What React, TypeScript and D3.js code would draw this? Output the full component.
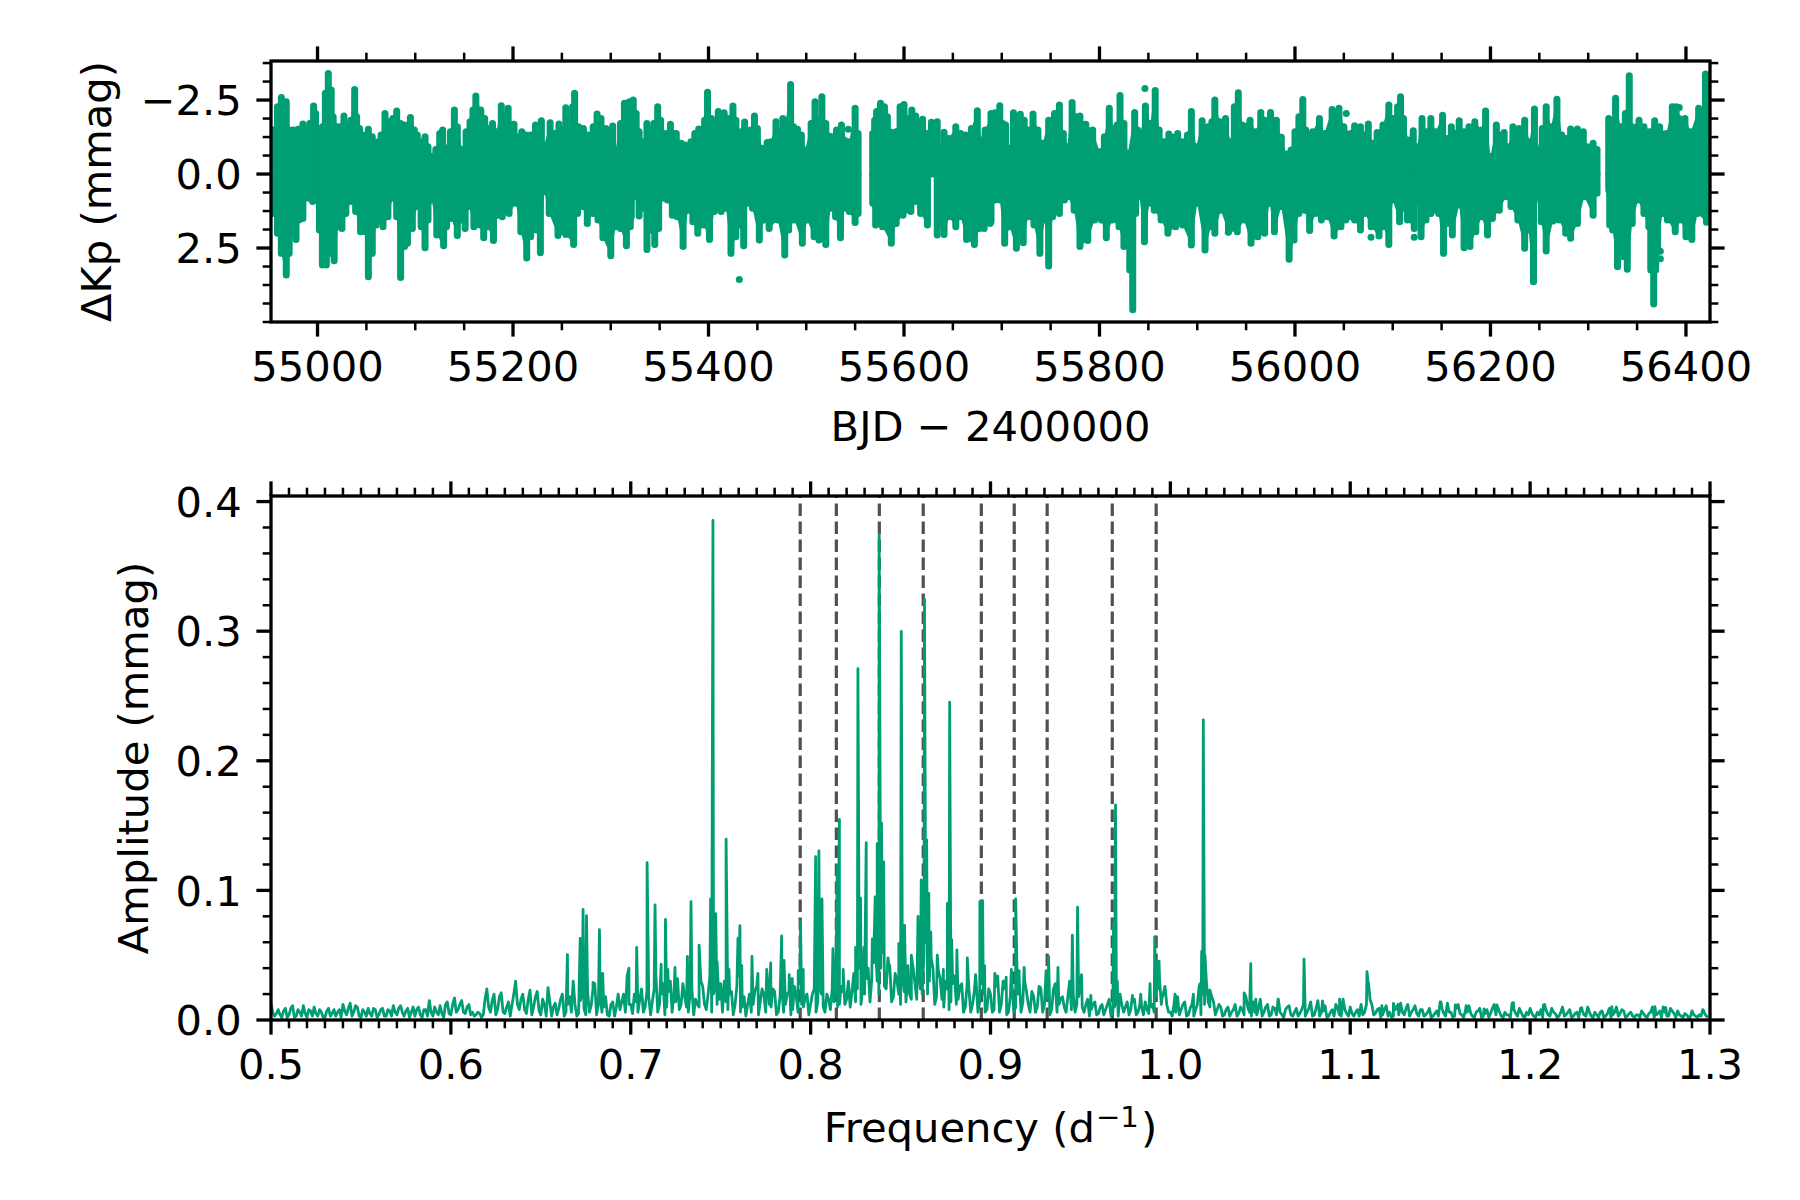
import React, { useEffect, useRef } from 'react';
import * as d3 from 'd3';

// Light curve: [BJD - 2400000, delta Kp in mmag]
const lcUpper: [number, number][] = [
  [54952,-1.51],[54956,-1.49],[54959,-2.27],[54963,-2.59],[54968,-2.44],[54971,-1.49],[54975,-1.49],[54980,-1.51],[54985,-1.69],[54988,-1.49],
  [54992,-1.71],[54996,-2.30],[54998,-2.05],[55002,-1.43],[55005,-1.60],[55008,-2.73],[55011,-3.40],[55014,-2.84],[55016,-1.94],[55019,-1.60],
  [55022,-1.60],[55027,-1.96],[55030,-1.60],[55034,-1.82],[55038,-2.86],[55040,-1.94],[55043,-1.54],[55046,-1.32],[55052,-1.51],[55056,-1.26],
  [55062,-1.09],[55065,-1.32],[55069,-2.05],[55073,-1.77],[55077,-1.88],[55081,-2.13],[55085,-1.71],[55089,-1.66],[55095,-1.91],[55099,-1.49],
  [55102,-1.32],[55106,-1.09],[55110,-1.26],[55113,-0.92],[55117,-0.59],[55121,-0.83],[55125,-1.37],[55128,-1.49],[55131,-0.87],[55136,-1.43],
  [55140,-2.16],[55143,-1.60],[55148,-0.83],[55152,-1.43],[55156,-1.77],[55159,-2.16],[55162,-2.64],[55167,-2.16],[55171,-1.88],[55174,-1.54],
  [55179,-1.71],[55183,-1.43],[55188,-2.31],[55191,-1.94],[55195,-2.22],[55198,-1.66],[55201,-1.68],[55205,-1.26],[55209,-1.43],[55213,-1.32],
  [55218,-1.32],[55223,-1.66],[55229,-1.80],[55232,-0.98],[55238,-1.73],[55242,-1.37],[55247,-1.69],[55251,-1.51],[55254,-2.24],[55258,-1.49],
  [55261,-2.27],[55263,-2.73],[55267,-1.60],[55272,-1.54],[55276,-1.32],[55282,-1.60],[55286,-2.03],[55290,-1.88],[55295,-1.54],[55302,-1.62],
  [55307,-0.81],[55310,-1.71],[55314,-2.39],[55319,-2.44],
  [55323,-2.50],[55326,-2.05],[55329,-1.43],[55333,-1.09],[55337,-1.71],[55340,-1.54],[55344,-1.71],[55348,-2.27],[55351,-1.82],[55355,-1.37],
  [55361,-1.68],[55364,-1.37],[55367,-1.37],[55372,-1.04],[55376,-0.98],[55382,-1.09],[55386,-1.37],[55390,-1.52],[55394,-1.49],[55396,-1.82],
  [55399,-2.76],[55403,-1.88],[55405,-1.60],[55410,-2.11],[55416,-2.07],[55420,-1.88],[55425,-2.30],[55428,-1.82],[55431,-1.43],[55437,-1.76],
  [55441,-1.43],[55443,-1.49],[55447,-1.96],[55450,-1.54],[55455,-0.87],[55460,-1.07],[55464,-1.09],[55469,-1.77],[55472,-1.43],[55476,-1.88],
  [55479,-1.77],[55484,-3.03],[55487,-1.60],[55491,-1.51],[55495,-1.32],[55499,-0.81],[55505,-1.71],[55509,-2.44],[55512,-1.77],[55516,-2.61],
  [55520,-1.71],[55524,-1.28],[55529,-1.28],[55531,-1.49],[55536,-1.66],[55539,-1.15],[55544,-1.09],[55550,-2.22],[55553,-1.37],
  [55568,-1.37],[55570,-1.82],[55572,-2.11],[55576,-2.39],[55580,-2.27],[55583,-1.94],[55587,-1.41],[55592,-1.43],[55596,-2.27],[55600,-2.35],
  [55604,-1.88],[55608,-2.16],[55612,-1.96],[55616,-1.60],[55619,-1.85],[55624,-1.37],[55628,-1.75],[55631,-1.43],[55634,-1.77],[55637,-0.92],
  [55641,-1.41],[55646,-1.20],[55653,-1.60],[55658,-1.37],[55663,-1.32],[55669,-1.54],[55675,-2.14],[55679,-1.15],[55683,-1.49],[55688,-1.60],
  [55689,-2.05],[55693,-2.07],[55698,-2.31],[55701,-1.71],[55704,-1.66],[55708,-0.87],[55712,-2.07],[55716,-1.43],[55719,-1.94],[55723,-1.82],
  [55728,-1.49],[55732,-2.03],[55737,-1.49],[55742,-1.04],[55748,-1.82],[55754,-2.05],[55759,-2.33],[55763,-1.37],[55767,-0.92],[55772,-2.42],
  [55776,-1.94],[55780,-1.96],[55786,-1.68],[55793,-1.49],[55800,-0.75],[55805,-1.26],[55810,-2.22],[55814,-1.54],[55818,-1.66],[55821,-2.65],
  [55825,-1.71],[55829,-0.70],[55836,-2.08],[55839,-1.49],[55842,-1.37],[55847,-2.30],[55852,-1.71],[55857,-2.82],[55861,-1.49],[55866,-1.09],
  [55871,-1.35],[55880,-1.37],[55885,-1.09],[55890,-1.32],[55894,-2.11],[55899,-0.92],[55905,-1.80],[55911,-1.60],[55915,-1.77],[55918,-2.50],
  [55923,-1.77],[55929,-1.88],[55934,-1.09],[55938,-2.27],[55942,-2.75],[55946,-1.66],[55954,-1.82],[55960,-1.43],[55965,-2.08],[55969,-1.82],
  [55975,-2.08],[55981,-1.82],[55986,-1.24],[55991,-0.68],[55996,-0.81],[56000,-1.43],[56004,-1.94],[56008,-2.52],[56011,-1.49],[56018,-1.43],
  [56025,-1.88],[56030,-1.37],[56038,-2.18],[56045,-2.22],[56050,-1.60],[56057,-1.37],
  [56061,-1.63],[56067,-1.60],[56071,-1.32],[56075,-1.69],[56079,-1.04],[56084,-1.40],[56090,-1.66],[56096,-2.33],[56100,-1.88],[56105,-2.27],
  [56108,-2.61],[56111,-1.88],[56116,-1.15],[56121,-1.46],[56125,-0.92],[56130,-1.88],[56134,-1.43],[56139,-1.88],[56144,-1.43],[56151,-1.99],
  [56155,-1.20],[56160,-1.60],[56164,-1.37],[56168,-1.80],[56173,-1.43],[56178,-1.60],[56184,-1.77],[56191,-1.49],[56195,-2.13],[56200,-0.59],
  [56206,-1.66],[56210,-1.32],[56214,-1.40],[56218,-0.92],[56223,-1.60],[56229,-1.54],[56235,-1.82],[56240,-1.09],[56245,-2.20],[56248,-0.81],
  [56253,-1.54],[56257,-2.27],[56262,-1.60],[56268,-2.53],[56273,-1.32],[56277,-1.20],[56282,-1.52],[56289,-1.52],[56295,-1.43],[56299,-0.92],
  [56305,-1.04],[56309,-0.83],
  [56321,-1.88],[56324,-1.43],[56328,-2.56],[56333,-1.60],[56338,-2.05],[56342,-3.32],[56345,-1.60],[56352,-1.82],[56357,-1.60],[56362,-1.43],
  [56368,-1.80],[56373,-1.60],[56380,-1.37],[56386,-2.27],[56390,-2.27],[56393,-1.88],[56399,-1.88],[56405,-1.43],[56413,-2.22],[56416,-1.26],
  [56420,-3.38],[56423,-3.34],
];

const lcLower: [number, number][] = [
  [54952,1.33],[54956,1.33],[54959,2.00],[54963,2.68],[54968,3.41],[54971,2.68],[54975,2.00],[54978,2.21],[54981,1.55],[54985,1.50],
  [54988,0.82],[54992,0.82],[54995,0.93],[54998,0.88],[55002,1.89],[55005,3.07],[55009,3.07],[55012,2.68],[55017,2.93],[55021,1.78],
  [55025,1.84],[55029,1.33],[55034,0.93],[55039,1.27],[55044,1.95],[55049,1.95],[55052,3.47],[55056,2.68],[55060,1.72],[55063,1.55],
  [55067,1.78],[55072,1.44],[55077,0.82],[55081,1.44],[55085,3.50],[55089,2.45],[55092,2.34],[55097,1.84],[55102,1.10],[55106,1.78],
  [55110,2.49],[55113,1.55],[55117,0.88],[55122,2.06],[55129,2.42],[55132,1.78],[55137,1.50],[55143,2.08],[55147,1.55],[55151,1.84],
  [55155,1.10],[55160,1.78],[55166,1.72],[55170,2.15],[55174,1.78],[55180,2.25],[55184,1.39],[55189,1.44],[55196,1.33],[55203,0.99],
  [55208,1.95],[55214,2.84],[55218,2.12],[55224,1.89],[55228,2.66],[55232,0.60],[55237,1.33],[55246,2.08],[55254,2.04],[55262,2.38],
  [55266,1.33],[55271,1.10],[55276,1.67],[55282,1.33],[55287,1.55],[55292,2.15],[55300,2.76],[55305,1.78],[55310,1.84],[55316,2.42],[55320,1.78],
  [55321,1.44],[55325,0.77],[55329,1.42],[55334,1.16],[55337,2.55],[55341,1.89],[55345,2.38],[55349,1.84],[55353,0.82],[55358,0.88],
  [55363,1.39],[55368,1.44],[55374,2.45],[55379,1.22],[55384,1.61],[55389,2.00],[55395,1.72],[55401,2.21],[55406,1.27],[55413,1.27],
  [55418,1.16],[55423,2.68],[55428,2.12],[55432,1.72],[55436,2.42],[55440,0.99],[55445,1.16],[55452,2.23],[55457,1.55],[55462,1.84],
  [55471,1.55],[55478,2.74],[55482,1.89],[55488,1.55],[55496,2.34],[55501,1.55],[55508,2.12],[55513,2.23],[55520,2.38],[55525,1.16],
  [55530,1.44],[55535,2.15],[55539,1.16],[55544,1.27],[55550,1.64],[55553,1.33],
  [55568,0.99],[55571,1.72],[55578,1.78],[55587,2.34],[55592,1.67],[55599,1.39],[55607,1.27],[55612,0.93],[55617,1.33],[55624,1.72],
  [55634,2.06],[55637,1.67],[55641,2.04],[55646,1.44],[55653,1.78],[55658,1.44],[55664,2.21],[55672,2.38],[55677,1.84],[55682,1.84],[55688,1.67],
  [55689,1.61],[55693,0.88],[55698,0.88],[55703,2.34],[55708,1.78],[55715,2.51],[55718,1.78],[55722,2.32],[55727,1.44],[55733,1.72],
  [55739,2.68],[55744,1.55],[55748,3.11],[55752,1.44],[55759,1.33],[55764,0.88],[55768,0.77],[55774,1.22],[55780,2.45],[55788,2.25],
  [55795,1.55],[55802,1.55],[55807,2.15],[55813,1.55],[55820,1.78],[55825,2.45],[55829,2.00],[55831,3.24],[55834,4.59],[55837,1.33],[55841,0.77],
  [55846,2.29],[55851,0.99],[55856,1.22],[55863,1.55],[55870,2.00],[55878,1.78],[55885,1.72],[55894,2.40],[55900,0.99],[55908,2.57],
  [55914,1.78],[55918,2.00],[55924,1.22],[55932,1.95],[55941,1.95],[55948,1.55],[55955,2.34],[55962,2.12],[55969,2.00],[55974,0.99],
  [55979,1.95],[55986,1.10],[55994,2.88],[55999,2.23],[56004,1.33],[56010,1.22],[56015,1.91],[56021,1.33],[56027,1.55],[56033,1.44],
  [56040,2.09],[56047,1.78],[56052,1.55],[56057,1.44],
  [56061,1.55],[56067,1.89],[56072,1.33],[56078,1.78],[56086,2.09],[56091,1.78],[56096,2.38],[56100,0.88],[56107,1.61],[56112,1.16],
  [56115,1.55],[56122,1.84],[56125,0.88],[56129,2.12],[56134,1.55],[56139,1.33],[56147,1.33],[56152,2.68],[56156,1.67],[56161,2.06],
  [56168,1.05],[56173,2.49],[56179,2.45],[56185,1.95],[56191,1.44],[56197,2.06],[56202,1.50],[56209,1.22],[56216,0.77],[56221,1.10],
  [56228,1.55],[56235,2.51],[56239,1.89],[56244,3.64],[56247,0.77],[56252,1.61],[56257,2.60],[56264,1.59],[56270,1.55],[56277,2.00],
  [56282,2.17],[56289,1.67],[56296,0.77],[56305,1.39],[56309,0.65],
  [56321,0.54],[56322,1.72],[56325,1.89],[56330,3.13],[56335,2.79],[56340,3.22],[56345,1.67],[56351,0.88],[56357,1.33],[56362,1.78],
  [56364,3.24],[56367,4.39],[56369,3.24],[56371,2.45],[56376,1.33],[56381,1.55],[56389,1.95],[56395,1.55],[56400,2.12],[56406,2.21],
  [56412,1.33],[56421,1.63],[56423,1.55],
];

const lcOutliers: [number, number][] = [
  [55431.5,3.56],[55543,-1.51],[55719,-2.02],[55846.5,-2.89],[55931.8,1.97],[56052.5,-2.05],
  [56077.8,2.14],[56122,2.14],[56373.8,2.61],[56373.8,2.86],[56393.2,-2.25],
];

// Holes in the light curve are wider than this many days
const lcMaxStep = 10;

// Amplitude spectrum: background level every 0.002 from 0.5 upward...
const specStart = 0.5;
const specStep = 0.002;
const specAmps = [
  .013,.003,.008,.002,.009,.004,.011,.003,.006,.011,.002,.007,.010,.003,.006,.002,.009,.005,.003,.008,
  .012,.004,.013,.006,.010,.002,.006,.009,.003,.008,.004,.009,.003,.007,.011,.004,.011,.003,.009,.006,
  .003,.010,.002,.008,.015,.003,.006,.011,.002,.014,
  .004,.017,.008,.015,.005,.012,.006,.004,.005,.004,.024,.006,.020,.008,.021,.005,.014,.012,.030,.008,
  .020,.005,.023,.010,.022,.004,.012,.025,.003,.013,.009,.020,.006,.018,.030,.003,.015,.009,.022,.011,
  .028,.012,.006,.018,.003,.014,.010,.008,.020,.034,
  .012,.020,.006,.024,.010,.018,.014,.034,.012,.028,.010,.030,.020,.032,.012,.018,.006,.024,.016,.010,
  .026,.008,.034,.020,.012,.028,.030,.008,.022,.012,.034,.010,.003,.020,.012,.026,.014,.020,.030,.010,
  .022,.006,.024,.012,.022,.008,.018,.028,.010,.020,
  .012,.024,.014,.020,.006,.016,.024,.030,.012,.022,.016,.010,.036,.024,.012,.020,.040,.032,.060,.020,
  .052,.024,.042,.018,.030,.012,.022,.034,.016,.028,.040,.020,.060,.030,.040,.018,.032,.010,.024,.014,
  .034,.016,.028,.010,.024,.012,.030,.014,.020,.008,
  .020,.008,.034,.012,.024,.006,.026,.010,.030,.014,.022,.006,.018,.010,.024,.012,.020,.008,.028,.012,
  .018,.006,.030,.020,.012,.028,.006,.016,.008,.014,.005,.012,.008,.016,.006,.012,.020,.006,.014,.008,
  .016,.006,.010,.014,.005,.012,.018,.030,.020,.012,
  .006,.012,.018,.008,.014,.004,.012,.008,.026,.020,.030,.010,.014,.008,.010,.004,.010,.006,.012,.005,
  .008,.018,.006,.014,.004,.016,.006,.012,.004,.009,.016,.004,.008,.011,.003,.009,.005,.012,.006,.014,
  .004,.015,.006,.011,.003,.008,.012,.004,.016,.005,
  .010,.003,.008,.012,.006,.028,.012,.005,.009,.004,.011,.006,.003,.010,.013,.004,.012,.006,.011,.003,
  .008,.004,.009,.003,.007,.014,.005,.013,.006,.003,.012,.004,.007,.011,.003,.006,.009,.003,.008,.005,
  .012,.010,.003,.006,.004,.013,.005,.009,.003,.006,
  .009,.003,.006,.008,.012,.004,.009,.005,.003,.010,.004,.008,.003,.006,.009,.004,.010,.003,.006,.002,
  .007,.003,.009,.004,.010,.005,.007,.003,.006,.002,.004,.007,.003,.005,.010,.004,.007,.010,.003,.009,
  .005,.007,.003,.005,.002,.007,.003,.004,.008,.003,
];

// ...the same level half a step later (0.501, 0.503, ...)
const specAmpsMid = [
  .006,.005,.004,.007,.002,.009,.002,.008,.003,.005,.008,.003,.005,.008,.002,.007,.003,.008,.006,.002,
  .007,.009,.003,.011,.003,.008,.003,.005,.009,.002,.008,.003,.008,.003,.006,.009,.006,.007,.002,.010,
  .008,.004,.008,.003,.006,.010,.004,.005,.012,.005,
  .012,.006,.012,.006,.010,.004,.003,.006,.002,.016,.010,.015,.004,.018,.006,.010,.003,.020,.012,.016,
  .008,.016,.004,.018,.007,.016,.003,.014,.010,.004,.016,.003,.012,.006,.012,.005,.020,.004,.006,.024,
  .004,.018,.010,.004,.012,.003,.020,.014,.006,.012,
  .005,.014,.016,.006,.022,.004,.024,.006,.020,.004,.022,.006,.014,.008,.028,.010,.020,.004,.012,.030,
  .012,.020,.006,.028,.016,.006,.014,.020,.004,.026,.006,.018,.012,.006,.022,.004,.024,.006,.012,.024,
  .004,.018,.006,.020,.004,.026,.006,.012,.018,.004,
  .020,.006,.026,.010,.020,.008,.014,.010,.026,.012,.030,.022,.014,.040,.026,.032,.014,.044,.030,.040,
  .026,.048,.014,.036,.020,.034,.014,.020,.040,.016,.024,.050,.020,.048,.012,.038,.016,.030,.008,.028,
  .012,.026,.006,.028,.006,.022,.006,.028,.006,.024,
  .006,.026,.006,.030,.004,.018,.006,.020,.006,.030,.012,.022,.006,.026,.006,.016,.004,.024,.006,.016,
  .010,.018,.008,.006,.018,.010,.012,.003,.012,.004,.010,.004,.012,.003,.010,.003,.012,.010,.004,.014,
  .004,.012,.004,.008,.010,.006,.024,.012,.026,.006,
  .003,.006,.004,.012,.003,.009,.003,.012,.004,.012,.014,.018,.004,.012,.003,.008,.003,.008,.003,.010,
  .004,.010,.003,.006,.009,.003,.010,.003,.010,.004,.006,.002,.010,.004,.006,.003,.008,.003,.009,.003,
  .009,.003,.007,.002,.006,.003,.009,.003,.008,.003,
  .005,.006,.003,.004,.012,.016,.004,.008,.002,.008,.003,.002,.008,.004,.006,.009,.003,.008,.005,.008,
  .003,.006,.002,.005,.003,.009,.003,.006,.002,.009,.005,.002,.006,.005,.002,.007,.002,.005,.002,.009,
  .004,.006,.002,.004,.002,.008,.003,.006,.002,.004,
  .005,.002,.004,.002,.007,.003,.006,.002,.006,.003,.006,.002,.005,.002,.007,.003,.006,.002,.004,.006,
  .002,.005,.002,.006,.003,.008,.002,.005,.003,.004,.002,.005,.002,.006,.002,.005,.002,.006,.003,.007,
  .002,.004,.002,.004,.002,.004,.002,.003,.005,.002,
];

// ...and the peaks that stand out of it: [frequency, amplitude]
const specPeaks: [number, number][] = [
  [.6648,.0505],[.6719,.063],[.6735,.0854],[.6754,.0805],[.679,.029],[.6826,.0697],[.6844,.036],[.699,.04],[.7033,.056],[.7091,.1214],
  [.7135,.0888],[.7169,.043],[.7193,.0777],[.7206,.039],[.7246,.0405],[.7315,.049],[.7335,.0914],[.738,.0577],[.7444,.0934],[.7457,.3855],
  [.7472,.082],[.748,.045],[.753,.1396],[.7546,.039],[.7596,.063],[.7607,.0728],[.7617,.042],[.7674,.049],[.7707,.036],[.7756,.039],
  [.7778,.044],[.7839,.0648],[.7852,.046],[.7881,.035],[.7898,.032],[.7931,.038],[.7944,.0757],[.7959,.039],[.8028,.126],[.8046,.1305],
  [.8063,.0934],[.8124,.055],[.8148,.119],[.816,.1548],[.8181,.039],[.825,.056],[.8263,.271],[.8278,.094],[.8296,.056],[.8309,.1368],
  [.8343,.0625],[.8359,.095],[.837,.136],[.8381,.3746],[.8394,.152],[.8406,.122],[.8435,.043],[.849,.059],[.8504,.2998],[.8522,.073],
  [.8541,.042],[.856,.05],[.8597,.08],[.8615,.108],[.8633,.3247],[.8645,.139],[.8657,.0977],[.8668,.0677],[.8704,.05],[.8738,.039],
  [.876,.09],[.8773,.2453],[.8784,.062],[.8813,.054],[.8871,.048],[.8917,.035],[.8941,.0914],[.8956,.092],[.8967,.042],[.9024,.036],
  [.9087,.033],[.9116,.039],[.914,.0934],[.9159,.038],[.9187,.0405],[.9277,.025],[.9309,.038],[.9323,.049],[.9375,.0405],[.9455,.0654],
  [.9484,.087],[.9506,.035],[.9558,.019],[.9684,.075],[.9695,.166],[.9705,.03],[.9789,.019],[.9835,.02],[.9887,.028],[.9913,.0642],
  [.9924,.042],[.9937,.0454],[.9952,.016],[1.0026,.02],[1.0128,.02],[1.0165,.028],[1.0174,.053],[1.0183,.2316],[1.0192,.05],[1.022,.023],
  [1.041,.021],[1.0447,.0434],[1.0475,.016],[1.0599,.016],[1.0743,.047],[1.0846,.0147],[1.0941,.016],[1.1093,.0373],[1.1102,.028],[1.1176,.011],
  [1.124,.0129],[1.1265,.012],[1.1504,.014],[1.1584,.0116],[1.1644,.011],[1.1744,.0085],[1.1815,.0116],[1.1907,.0134],[1.2074,.0116],[1.2287,.0095],
  [1.2454,.0103],[1.2694,.0103],[1.2754,.0098],[1.2963,.0077],
];

const modeFreqs = [0.7942, 0.8143, 0.8382, 0.8626, 0.8949, 0.9132, 0.9315, 0.9677, 0.9921];

const lcTimeTicks = [55000, 55200, 55400, 55600, 55800, 56000, 56200, 56400];
const lcMagTicks = [-2.5, 0, 2.5];
const specFreqTicks = [0.5, 0.6, 0.7, 0.8, 0.9, 1.0, 1.1, 1.2, 1.3];
const specAmpTicks = [0, 0.1, 0.2, 0.3, 0.4];

const GREEN = '#009E73';
const FONT = "'DejaVu Sans', sans-serif";
const FS = 41.67;
const DOT = 7;

const left = 271;
const right = 1710;
const top1 = 61;
const bottom1 = 322;
const top2 = 496;
const bottom2 = 1020;

const App: React.FC = () => {
  const svgRef = useRef<SVGSVGElement | null>(null);

  useEffect(() => {
    if (!svgRef.current) return;
    const svg = d3.select(svgRef.current);
    svg.selectAll('*').remove();

    const xLc = d3.scaleLinear().domain([54952.4, 56424.6]).range([left, right]);
    const yLc = d3.scaleLinear().domain([-3.82, 5.0]).range([top1, bottom1]);
    const xSp = d3.scaleLinear().domain([0.5, 1.3]).range([left, right]);
    const ySp = d3.scaleLinear().domain([0, 0.4043]).range([bottom2, top2]);

    const clip = (id: string, y0: number, y1: number) => {
      svg.append('clipPath').attr('id', id).append('rect')
        .attr('x', left).attr('y', y0).attr('width', right - left).attr('height', y1 - y0);
    };
    clip('clip-lc', top1, bottom1);
    clip('clip-sp', top2, bottom2);

    // --- light curve: columns of stacked dots with the body filled in between them ---
    const gLc = svg.append('g').attr('clip-path', 'url(#clip-lc)');
    const area = d3.area<[number, number]>()
      .x(d => xLc(d[0]))
      .y0(yLc(0))
      .y1(d => yLc(d[1]));

    [lcUpper, lcLower].forEach(series => {
      const between = d3.pairs(series).filter(([a, b]) => b[0] - a[0] < lcMaxStep);
      gLc.append('g').selectAll('path')
        .data(between)
        .enter()
        .append('path')
        .attr('d', d => area(d))
        .attr('fill', GREEN);

      gLc.append('g').selectAll('line')
        .data(series)
        .enter()
        .append('line')
        .attr('x1', d => xLc(d[0]))
        .attr('x2', d => xLc(d[0]))
        .attr('y1', yLc(0))
        .attr('y2', d => yLc(d[1]))
        .attr('stroke', GREEN)
        .attr('stroke-width', DOT)
        .attr('stroke-linecap', 'round');
    });

    gLc.selectAll('.outlier')
      .data(lcOutliers)
      .enter()
      .append('circle')
      .attr('cx', d => xLc(d[0]))
      .attr('cy', d => yLc(d[1]))
      .attr('r', DOT / 2)
      .attr('fill', GREEN);

    // --- spectrum ---
    const gSp = svg.append('g').attr('clip-path', 'url(#clip-sp)');
    modeFreqs.forEach(f => {
      // drawn from the bottom up so the dashes start at the axis
      gSp.append('line')
        .attr('x1', xSp(f)).attr('x2', xSp(f))
        .attr('y1', bottom2).attr('y2', top2)
        .attr('stroke', '#505050')
        .attr('stroke-width', 3.2)
        .attr('stroke-dasharray', '12.5 5.5');
    });

    const specPoints: [number, number][] = specAmps
      .map((a, i) => [specStart + i * specStep, a] as [number, number])
      .concat(specAmpsMid.map((a, i) => [specStart + (i + 0.5) * specStep, a] as [number, number]))
      .concat(specPeaks)
      .sort((a, b) => a[0] - b[0]);

    gSp.append('path')
      .attr('d', d3.line<[number, number]>().x(d => xSp(d[0])).y(d => ySp(d[1]))(specPoints))
      .attr('fill', 'none')
      .attr('stroke', GREEN)
      .attr('stroke-width', 2.8)
      .attr('stroke-linejoin', 'round');

    // --- frames and ticks ---
    const frame = (y0: number, y1: number) => {
      svg.append('rect')
        .attr('x', left).attr('y', y0).attr('width', right - left).attr('height', y1 - y0)
        .attr('fill', 'none').attr('stroke', '#000').attr('stroke-width', 3.3);
    };
    frame(top1, bottom1);
    frame(top2, bottom2);

    const addAxis = (
      axisFn: (s: d3.AxisScale<number>) => d3.Axis<number>,
      scale: d3.ScaleLinear<number, number>,
      major: number[],
      minor: number[],
      tx: number,
      ty: number,
      fmt: ((d: number) => string) | null,
    ) => {
      const minorOnly = minor.filter(m => !major.some(v => Math.abs(v - m) < 1e-6));
      const gMinor = svg.append('g').attr('transform', `translate(${tx},${ty})`)
        .call(axisFn(scale as any).tickValues(minorOnly).tickSize(8.3).tickSizeOuter(0).tickFormat(() => '').offset(0) as any);
      gMinor.select('.domain').remove();
      gMinor.selectAll('line').attr('stroke', '#000').attr('stroke-width', 2.5);

      const gMajor = svg.append('g').attr('transform', `translate(${tx},${ty})`)
        .call(axisFn(scale as any).tickValues(major).tickSize(14.6).tickSizeOuter(0).tickPadding(14.6)
          .tickFormat(fmt ? (fmt as any) : () => '').offset(0) as any);
      gMajor.select('.domain').remove();
      gMajor.selectAll('line').attr('stroke', '#000').attr('stroke-width', 3.3);
      gMajor.selectAll('text')
        .attr('font-family', FONT).attr('font-size', FS).attr('fill', '#000');
      return gMajor;
    };

    const lcTimeMinor = d3.range(54950, 56425, 50).filter(v => v >= 54952.4);
    const lcMagMinor = d3.range(-3.75, 5.01, 0.625);
    const spFreqMinor = d3.range(50, 131).map(v => v / 100);
    const spAmpMinor = d3.range(0, 21).map(v => v / 50);

    const magFmt = (d: number) => d3.format('.1f')(d).replace('-', '\u2212');
    const oneDec = (d: number) => d3.format('.1f')(d);
    const intFmt = (d: number) => String(d);

    addAxis(d3.axisBottom as any, xLc, lcTimeTicks, lcTimeMinor, 0, bottom1, intFmt);
    addAxis(d3.axisTop as any, xLc, lcTimeTicks, lcTimeMinor, 0, top1, null);
    addAxis(d3.axisLeft as any, yLc, lcMagTicks, lcMagMinor, left, 0, magFmt)
      .selectAll('text').attr('dy', '0.365em');
    addAxis(d3.axisRight as any, yLc, lcMagTicks, lcMagMinor, right, 0, null);

    addAxis(d3.axisBottom as any, xSp, specFreqTicks, spFreqMinor, 0, bottom2, oneDec);
    addAxis(d3.axisTop as any, xSp, specFreqTicks, spFreqMinor, 0, top2, null);
    addAxis(d3.axisLeft as any, ySp, specAmpTicks, spAmpMinor, left, 0, oneDec)
      .selectAll('text').attr('dy', '0.365em');
    addAxis(d3.axisRight as any, ySp, specAmpTicks, spAmpMinor, right, 0, null);

    // --- axis titles ---
    const title = (x: number, y: number, text: string, rotate = false) =>
      svg.append('text')
        .attr('transform', `translate(${x},${y})${rotate ? ' rotate(-90)' : ''}`)
        .attr('text-anchor', 'middle')
        .attr('font-family', FONT)
        .attr('font-size', FS)
        .attr('fill', '#000')
        .text(text);

    title(990.5, 441, 'BJD \u2212 2400000');
    title(111, 191.5, '\u0394Kp (mmag)', true);
    title(148, 758, 'Amplitude (mmag)', true);

    const freqTitle = title(990.5, 1142, 'Frequency (d');
    freqTitle.append('tspan').attr('dx', 1).attr('dy', -15).attr('font-size', FS * 0.7).text('\u22121');
    freqTitle.append('tspan').attr('dx', 2).attr('dy', 15).text(')');
  }, []);

  return (
    <svg
      ref={svgRef}
      width="1800"
      height="1200"
      style={{ position: 'absolute', left: 0, top: 0, background: '#fff' }}
    />
  );
};

export default App;
